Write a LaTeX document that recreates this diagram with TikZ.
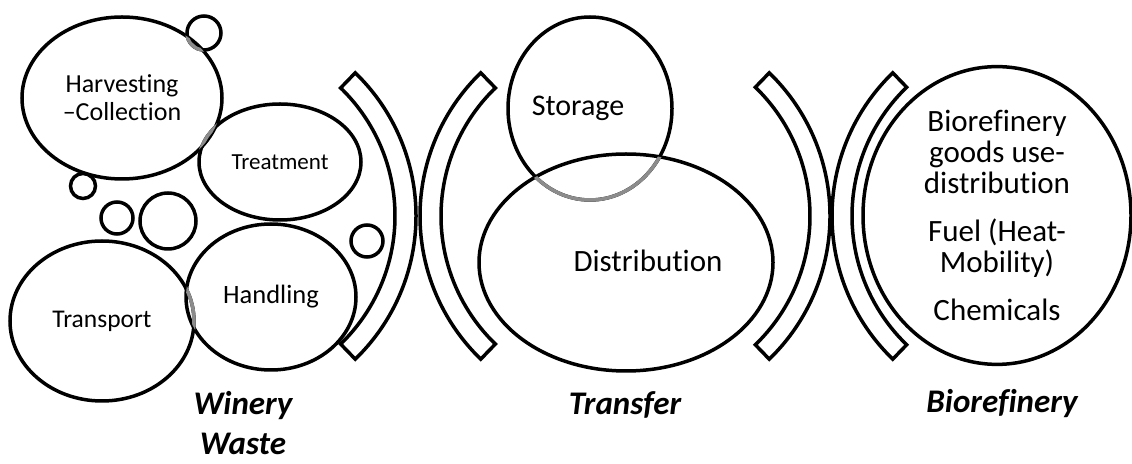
\documentclass[tikz,border=0pt]{standalone}
\usepackage{fontspec}
\setmainfont{Carlito}[Ligatures=NoCommon]
\usetikzlibrary{shapes.geometric}
\definecolor{seamgray}{gray}{0.55}
\tikzset{
    bub/.style={ellipse, draw, line width=3.5pt, inner sep=0pt, align=center},
    ring/.style={draw, line width=3.5pt},
    seam/.style={draw=seamgray, line width=3.5pt},
    band/.style={draw, line width=3.5pt},
    stage/.style={font=\fontsize{33}{40}\selectfont\bfseries\itshape, align=center},
}

\begin{document}
\begin{tikzpicture}[x=1pt, y=1pt]
    \useasboundingbox (0,0) rectangle (1132,463);

    % winery waste cluster
    \node[bub, minimum width=200pt, minimum height=162pt, font=\fontsize{26}{28}\selectfont] (harv) at (122,365) {Harvesting\\–Collection};
    \node[bub, minimum width=162pt, minimum height=116pt, font=\fontsize{23}{26}\selectfont] (treat) at (280,301) {Treatment};
    \node[bub, minimum width=184pt, minimum height=160pt, font=\fontsize{25.5}{28}\selectfont] (transp) at (102,142) {Transport};
    \node[bub, minimum width=170pt, minimum height=146pt, font=\fontsize{26.5}{28}\selectfont] (handl) at (271,166) {Handling};
    \foreach \cx/\cy/\r in {204/430/17, 83/277/12.5, 117/245/16, 168/242/28, 367/222/16}
        \draw[ring] (\cx,\cy) circle[radius=\r];

    % where outlines run inside a neighbour
    \begin{scope}
        \clip (harv.center) ellipse[x radius=100, y radius=81];
        \draw[seam] (204,430) circle[radius=17];
        \draw[seam] (treat.center) ellipse[x radius=81, y radius=58];
    \end{scope}
    \begin{scope}
        \clip (handl.center) ellipse[x radius=85, y radius=73];
        \draw[seam] (transp.center) ellipse[x radius=92, y radius=80];
    \end{scope}

    % transfer
    \node[bub, minimum width=164pt, minimum height=183pt] (store) at (590,354.5) {};
    \node[bub, minimum width=294pt, minimum height=217pt] (dist) at (626,200.5) {};
    \begin{scope}
        \clip (dist.center) ellipse[x radius=147, y radius=108.5];
        \draw[seam] (store.center) ellipse[x radius=82, y radius=91.5];
    \end{scope}
    \node[font=\fontsize{30}{32}\selectfont] (storetxt) at (578,354.5) {Storage};
    \node[font=\fontsize{31}{33}\selectfont] (disttxt) at (648,202) {Distribution};

    % biorefinery
    \node[bub, minimum width=268pt, minimum height=281pt, font=\fontsize{31}{31}\selectfont] (bioref) at (997,247.5)
        {Biorefinery\\goods use-\\distribution\\[17pt]Fuel (Heat-\\Mobility)\\[17pt]Chemicals};

    % curved bands between the stages
    \draw[band] (217,247) ++(46:199) arc[start angle=46, end angle=-46, radius=199] -- ++(134:21)
        arc[start angle=-46, end angle=46, radius=178] -- cycle;
    \draw[band] (619,247) ++(134:199) arc[start angle=134, end angle=226, radius=199] -- ++(46:21)
        arc[start angle=226, end angle=134, radius=178] -- cycle;
    \draw[band] (631,247) ++(46:199) arc[start angle=46, end angle=-46, radius=199] -- ++(134:20)
        arc[start angle=-46, end angle=46, radius=179] -- cycle;
    \draw[band] (1031,247) ++(134:199) arc[start angle=134, end angle=226, radius=199] -- ++(46:20)
        arc[start angle=226, end angle=134, radius=179] -- cycle;

    % stage labels
    \node[stage] (wlab) at (243,40) {Winery\\Waste};
    \node[stage, anchor=base] (tlab) at (625,48) {Transfer};
    \node[stage, anchor=base] (blab) at (1002,50) {Biorefinery};
\end{tikzpicture}
\end{document}
